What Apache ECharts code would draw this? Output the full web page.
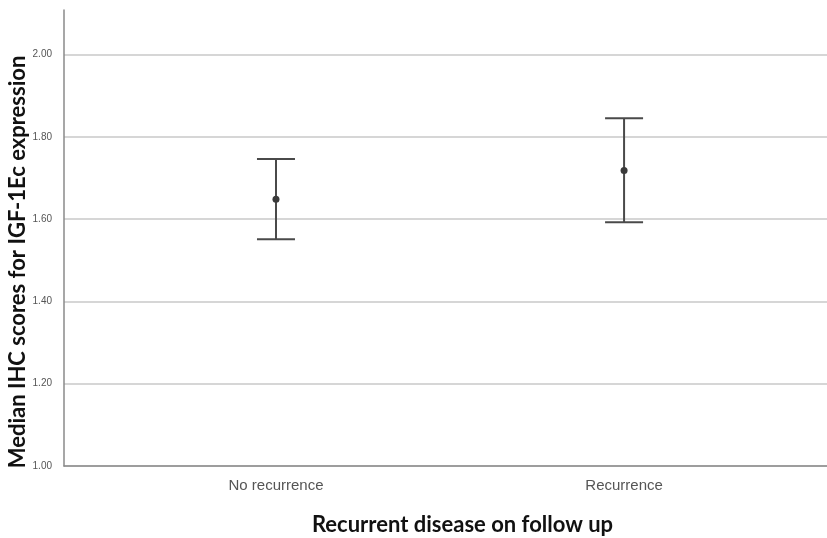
<!DOCTYPE html>
<html>
<head>
<meta charset="utf-8">
<script src="https://cdn.jsdelivr.net/npm/echarts@6/dist/echarts.min.js"></script>
<style>html,body{margin:0;padding:0;background:#fff}#c{width:827px;height:538px}</style>
</head>
<body>
<div id="c"></div>
<script>
const categories = ['No recurrence', 'Recurrence'];
const medians = [1.648, 1.718];
const lower = [1.551, 1.592];
const upper = [1.746, 1.845];
const yTicks = [1.0, 1.2, 1.4, 1.6, 1.8, 2.0];

const chart = echarts.init(document.getElementById('c'));
const data = categories.map((c, i) => [i, lower[i], upper[i], medians[i]]);

chart.setOption({
  animation: false,
  backgroundColor: '#fff',
  grid: { left: 64, right: 0, top: 10, bottom: 72, containLabel: false, outerBoundsMode: 'none' },
  xAxis: {
    type: 'value', min: -0.609, max: 1.583,
    splitLine: { show: false },
    axisTick: { show: false },
    axisLine: { show: true, onZero: false, lineStyle: { color: '#8a8a8a', width: 1.5 } },
    axisLabel: {
      customValues: [0, 1],
      formatter: v => categories[Math.round(v)],
      color: '#555', fontSize: 15, fontFamily: 'Liberation Sans Narrow, Liberation Sans, sans-serif', margin: 12
    },
    name: 'Recurrent disease on follow up', nameLocation: 'middle', nameGap: 48,
    nameTextStyle: { fontSize: 22, fontWeight: 'bold', color: '#111', fontFamily: 'Lato, Open Sans, sans-serif', padding: [0, 0, 0, 34] }
  },
  yAxis: {
    type: 'value', min: 1.0, max: 2.108, interval: 0.2,
    axisLine: { show: true, onZero: false, lineStyle: { color: '#8a8a8a', width: 1.5 } },
    axisTick: { show: false },
    axisLabel: {
      showMaxLabel: false,
      formatter: v => (yTicks.some(t => Math.abs(t - v) < 1e-6) ? v.toFixed(2) : ''),
      color: '#555', fontSize: 10, fontFamily: 'Liberation Sans Narrow, Liberation Sans, sans-serif', margin: 12
    },
    splitLine: { show: true, lineStyle: { color: ['#d6d6d6','#d6d6d6','#d6d6d6','#d6d6d6','#d6d6d6','#d6d6d6','rgba(0,0,0,0)'], width: 2 } },
    name: 'Median IHC scores for IGF-1Ec expression', nameLocation: 'middle', nameGap: 35, nameMoveOverlap: false,
    nameTextStyle: { fontSize: 22, fontWeight: 'bold', color: '#111', fontFamily: 'Lato, Open Sans, sans-serif', padding: [0, 48, 0, 0] }
  },
  series: [{
    type: 'custom',
    data: data,
    renderItem: function (params, api) {
      const x = api.value(0);
      const lo = api.coord([x, api.value(1)]);
      const hi = api.coord([x, api.value(2)]);
      const md = api.coord([x, api.value(3)]);
      const half = 19;
      const st = { stroke: '#4a4a4a', lineWidth: 2 };
      return {
        type: 'group',
        children: [
          { type: 'line', shape: { x1: hi[0], y1: hi[1], x2: lo[0], y2: lo[1] }, style: st },
          { type: 'line', shape: { x1: hi[0] - half, y1: hi[1], x2: hi[0] + half, y2: hi[1] }, style: st },
          { type: 'line', shape: { x1: lo[0] - half, y1: lo[1], x2: lo[0] + half, y2: lo[1] }, style: st },
          { type: 'circle', shape: { cx: md[0], cy: md[1], r: 3.5 }, style: { fill: '#3a3a3a' } }
        ]
      };
    }
  }]
});
</script>
</body>
</html>
